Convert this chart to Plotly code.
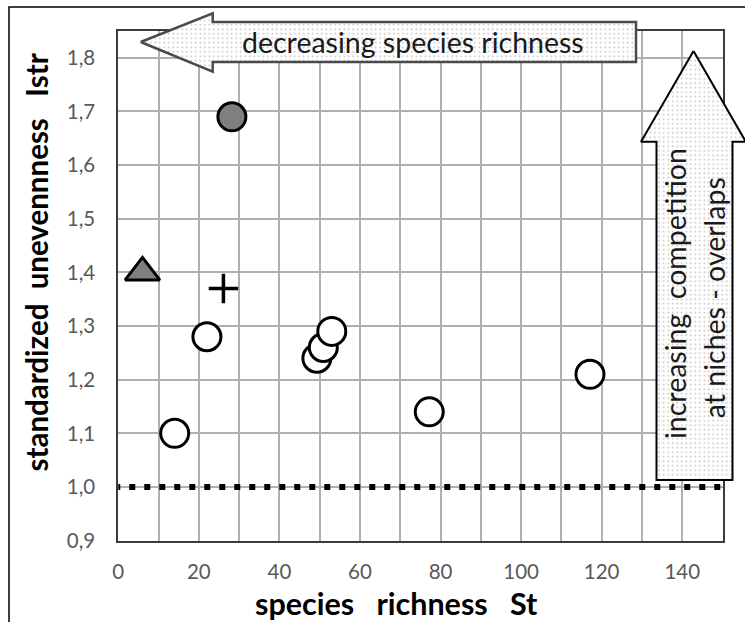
import plotly.graph_objects as go

# ---------------- data ----------------
open_x = [14, 22, 49.3, 50.9, 53, 77.2, 117.1]
open_y = [1.10, 1.28, 1.24, 1.26, 1.29, 1.14, 1.21]
gray_circle_x = [28.2]
gray_circle_y = [1.69]
triangle_x = [6]
triangle_y = [1.40]
plus_x = [26.1]
plus_y = [1.37]
ref_level = 1.0
x_tick_vals = [0, 20, 40, 60, 80, 100, 120, 140]
y_tick_vals = [0.9, 1.0, 1.1, 1.2, 1.3, 1.4, 1.5, 1.6, 1.7, 1.8]
x_range = [0, 150]
y_range = [0.9, 1.85]

x_title = "species\u00a0\u00a0\u00a0richness\u00a0\u00a0\u00a0St"
y_title = "standardized\u00a0\u00a0unevennness\u00a0\u00a0\u00a0Istr"
top_arrow_text = "decreasing species richness"
side_arrow_text_1 = "increasing\u00a0\u00a0competition"
side_arrow_text_2 = "at niches - overlaps"

# ---------------- layout geometry (pixels) ----------------
W, H = 745, 622
PL, PR, PT, PB = 118.3, 722.5, 31, 540.6
FONT = "Lato"

fig = go.Figure()

# reference level line
fig.add_trace(go.Scatter(
    x=[-1, 151], y=[ref_level, ref_level], mode="lines",
    line=dict(color="black", width=6, dash="6px,9px"),
    hoverinfo="skip"))

fig.add_trace(go.Scatter(
    x=open_x, y=open_y, mode="markers",
    marker=dict(symbol="circle", size=28, color="white",
                line=dict(color="black", width=3))))
fig.add_trace(go.Scatter(
    x=gray_circle_x, y=gray_circle_y, mode="markers",
    marker=dict(symbol="circle", size=28, color="#7f7f7f",
                line=dict(color="black", width=3))))
fig.add_trace(go.Scatter(
    x=triangle_x, y=triangle_y, mode="markers",
    marker=dict(symbol="triangle-up", size=30, color="#7f7f7f",
                line=dict(color="black", width=3))))
fig.add_trace(go.Scatter(
    x=plus_x, y=plus_y, mode="markers",
    marker=dict(symbol="cross-thin", size=21,
                line=dict(color="black", width=3.5))))

# ---------------- decorative arrows on a pixel overlay ----------------
pattern = dict(shape=".", fgcolor="#7a7a7a", bgcolor="white", size=4.5, solidity=0.12)

top_arrow_x = [140.7, 212.7, 212.7, 636, 636, 212.7, 212.7, 140.7]
top_arrow_y = [42, 13.3, 22, 22, 62, 62, 71.7, 42]
fig.add_trace(go.Scatter(
    x=top_arrow_x, y=top_arrow_y, xaxis="x2", yaxis="y2",
    mode="lines", fill="toself", fillcolor="white", fillpattern=pattern,
    line=dict(color="#4a4a4a", width=2.5), hoverinfo="skip"))

side_arrow_x = [693.5, 745.8, 732.5, 732.5, 656.5, 656.5, 641, 693.5]
side_arrow_y = [51, 141.7, 141.7, 480, 480, 141.7, 141.7, 51]
fig.add_trace(go.Scatter(
    x=side_arrow_x, y=side_arrow_y, xaxis="x2", yaxis="y2",
    mode="lines", fill="toself", fillcolor="white", fillpattern=pattern,
    line=dict(color="black", width=2), hoverinfo="skip"))

grid_color = "#b0b0b0"
axis_font = dict(family=FONT, size=20.5, color="#595959")

fig.update_layout(
    width=W, height=H,
    margin=dict(l=0, r=0, t=0, b=0, autoexpand=False),
    paper_bgcolor="white",
    plot_bgcolor="rgba(0,0,0,0)",
    showlegend=False,
    hovermode=False,
    separators=", ",
    xaxis=dict(
        domain=[PL / W, PR / W], range=x_range, automargin=False,
        tickmode="array", tickvals=x_tick_vals,
        showgrid=True, gridcolor=grid_color, gridwidth=1.5,
        minor=dict(dtick=10, tick0=0, showgrid=True, gridcolor=grid_color, gridwidth=1.5),
        showline=True, mirror=True, linecolor="#3c3c3c", linewidth=2,
        zeroline=False, tickfont=axis_font, ticks="", ticklabelstandoff=12,
        anchor="y"),
    yaxis=dict(
        domain=[1 - PB / H, 1 - PT / H], range=y_range, automargin=False,
        tickmode="array", tickvals=y_tick_vals, tickformat=".1f",
        showgrid=True, gridcolor=grid_color, gridwidth=1.5,
        showline=True, mirror=True, linecolor="#3c3c3c", linewidth=2,
        zeroline=False, tickfont=axis_font, ticks="", ticklabelstandoff=17,
        anchor="x"),
    xaxis2=dict(domain=[0, 1], range=[0, W], visible=False, anchor="y2",
                fixedrange=True, automargin=False),
    yaxis2=dict(domain=[0, 1], range=[H, 0], visible=False, anchor="x2",
                fixedrange=True, automargin=False),
)

# outer frame
fig.add_shape(type="rect", xref="x2", yref="y2", x0=9, y0=7, x1=W + 30, y1=H + 30,
              line=dict(color="black", width=1.5), fillcolor="rgba(0,0,0,0)")

ann = []
ann.append(dict(text=y_title, x=35.5, y=263, textangle=-90,
                font=dict(family=FONT, size=29.5, color="black", weight="bold")))
ann.append(dict(text=x_title, x=396.5, y=602.5,
                font=dict(family=FONT, size=30.5, color="black", weight="bold")))
ann.append(dict(text=top_arrow_text, x=413, y=42,
                font=dict(family=FONT, size=28.5, color="#1a1a1a")))
ann.append(dict(text=side_arrow_text_1, x=675, y=294, textangle=-90,
                font=dict(family=FONT, size=28.5, color="#1a1a1a")))
ann.append(dict(text=side_arrow_text_2, x=713.7, y=297.5, textangle=-90,
                font=dict(family=FONT, size=28.5, color="#1a1a1a")))
for a in ann:
    fig.add_annotation(xref="x2", yref="y2", showarrow=False,
                       xanchor="center", yanchor="middle", **a)

fig.write_html("out.html", config={"displayModeBar": False},
               post_script="document.body.style.margin='0';document.body.style.padding='0';")
